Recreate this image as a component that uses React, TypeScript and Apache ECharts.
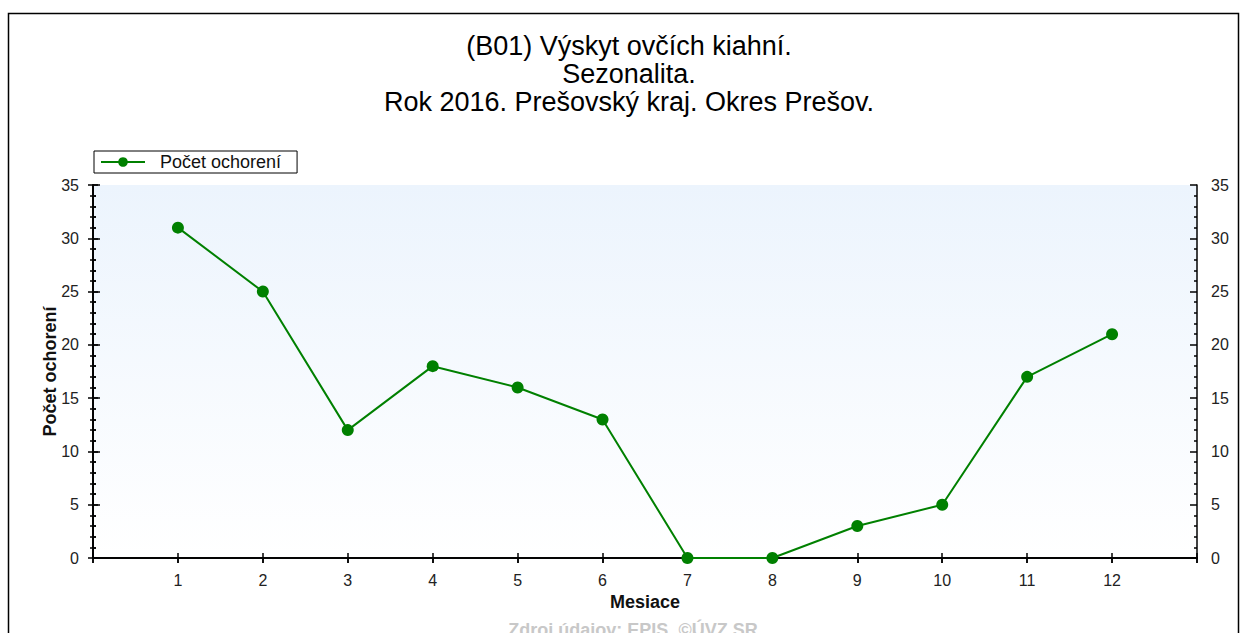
import React, { useEffect, useRef } from "react";
import * as echarts from "echarts";

const months = [1, 2, 3, 4, 5, 6, 7, 8, 9, 10, 11, 12];
const cases = [31, 25, 12, 18, 16, 13, 0, 0, 3, 5, 17, 21];
const titleLines = [
  "(B01) Výskyt ovčích kiahní.",
  "Sezonalita.",
  "Rok 2016. Prešovský kraj. Okres Prešov.",
];
const seriesName = "Počet ochorení";
const xName = "Mesiace";
const yName = "Počet ochorení";
const footer = "Zdroj údajov: EPIS, ©ÚVZ SR";

const FONT = "'Liberation Sans', Arial, sans-serif";

export default function App() {
  const ref = useRef<HTMLDivElement>(null);
  useEffect(() => {
    if (!ref.current) return;
    const chart = echarts.init(ref.current, undefined, { renderer: "svg" });
    const axisLine = { show: true, lineStyle: { color: "#000", width: 1.5 } };
    const yBase = {
      type: "value" as const,
      min: 0,
      max: 35,
      interval: 5,
      splitLine: { show: false },
      axisLine,
      minorTick: { show: true, splitNumber: 5, length: 3, lineStyle: { color: "#000", width: 1.5 } },
      axisTick: { show: true, length: 5, lineStyle: { color: "#000", width: 1.5 } },
    };
    const xBase = {
      type: "value" as const,
      min: 0,
      max: 13,
      interval: 1,
      splitLine: { show: false },
      axisLine,
      axisTick: { show: true, length: 5, lineStyle: { color: "#000", width: 1.5 } },
    };
    const labelStyle = { color: "#222", fontSize: 16, fontFamily: FONT };
    chart.setOption({
      animation: false,
      backgroundColor: "#fff",
      title: {
        text: titleLines.join("\n"),
        left: 624,
        textAlign: "center",
        top: 27,
        textStyle: { fontSize: 27, fontWeight: "normal", color: "#000", fontFamily: FONT, lineHeight: 28 },
      },
      legend: {
        left: 94,
        top: 151,
        orient: "horizontal",
        data: [seriesName],
        borderColor: "#000",
        borderWidth: 1,
        backgroundColor: "#fff",
        padding: [2, 16, 2, 6],
        itemWidth: 44,
        itemHeight: 12,
        textStyle: { fontSize: 18, color: "#111", fontFamily: FONT, padding: [0, 0, 0, 10] },
      },
      grid: {
        left: 93,
        top: 185,
        width: 1104,
        height: 373,
        show: true,
        borderWidth: 0,
        backgroundColor: new echarts.graphic.LinearGradient(0, 0, 0, 1, [
          { offset: 0, color: "#ecf4fd" },
          { offset: 1, color: "#ffffff" },
        ]),
      },
      xAxis: [
        {
          ...xBase,
          position: "bottom",
          name: xName,
          nameLocation: "middle",
          nameGap: 34,
          nameTextStyle: { fontSize: 18, fontWeight: "bold", color: "#111", fontFamily: FONT },
          axisLabel: {
            ...labelStyle,
            margin: 14,
            formatter: (v: number) => (months.includes(v) ? String(v) : ""),
          },
        },
        { ...xBase, position: "bottom", axisTick: { ...xBase.axisTick, inside: true }, axisLabel: { show: false } },
        { ...xBase, position: "top", axisTick: { ...xBase.axisTick, inside: true }, axisLabel: { show: false } },
      ],
      yAxis: [
        {
          ...yBase,
          position: "left",
          name: yName,
          nameLocation: "middle",
          nameGap: 34,
          nameMoveOverlap: false,
          nameRotate: 90,
          nameTextStyle: { fontSize: 18, fontWeight: "bold", color: "#111", fontFamily: FONT },
          axisLabel: { ...labelStyle, margin: 14 },
        },
        {
          ...yBase,
          position: "left",
          axisTick: { ...yBase.axisTick, inside: true, length: 7 },
          minorTick: { ...yBase.minorTick, inside: true },
          axisLabel: { show: false },
        },
        { ...yBase, position: "right", axisLabel: { ...labelStyle, margin: 14 } },
        {
          ...yBase,
          position: "right",
          axisTick: { ...yBase.axisTick, inside: true, length: 7 },
          axisLabel: { show: false },
        },
      ],
      series: [
        {
          name: seriesName,
          type: "line",
          xAxisIndex: 0,
          yAxisIndex: 0,
          data: months.map((m, i) => [m, cases[i]]),
          symbol: "circle",
          symbolSize: 12,
          lineStyle: { color: "#008000", width: 2 },
          itemStyle: { color: "#008000" },
          z: 5,
        },
      ],
      graphic: [
        {
          type: "rect",
          left: 6,
          top: 11,
          shape: { width: 1230, height: 660 },
          style: { fill: "none", stroke: "#000", lineWidth: 1.5 },
          silent: true,
          z: 100,
        },
        {
          type: "text",
          x: 633,
          y: 621,
          style: {
            text: footer,
            fill: "#c8c8c8",
            fontSize: 18,
            fontWeight: "bold",
            fontFamily: FONT,
            textAlign: "center",
          },
        },
      ],
    });
    return () => chart.dispose();
  }, []);
  return (
    <div
      ref={ref}
      style={{ position: "fixed", left: 0, top: 0, width: 1248, height: 633 }}
    />
  );
}
